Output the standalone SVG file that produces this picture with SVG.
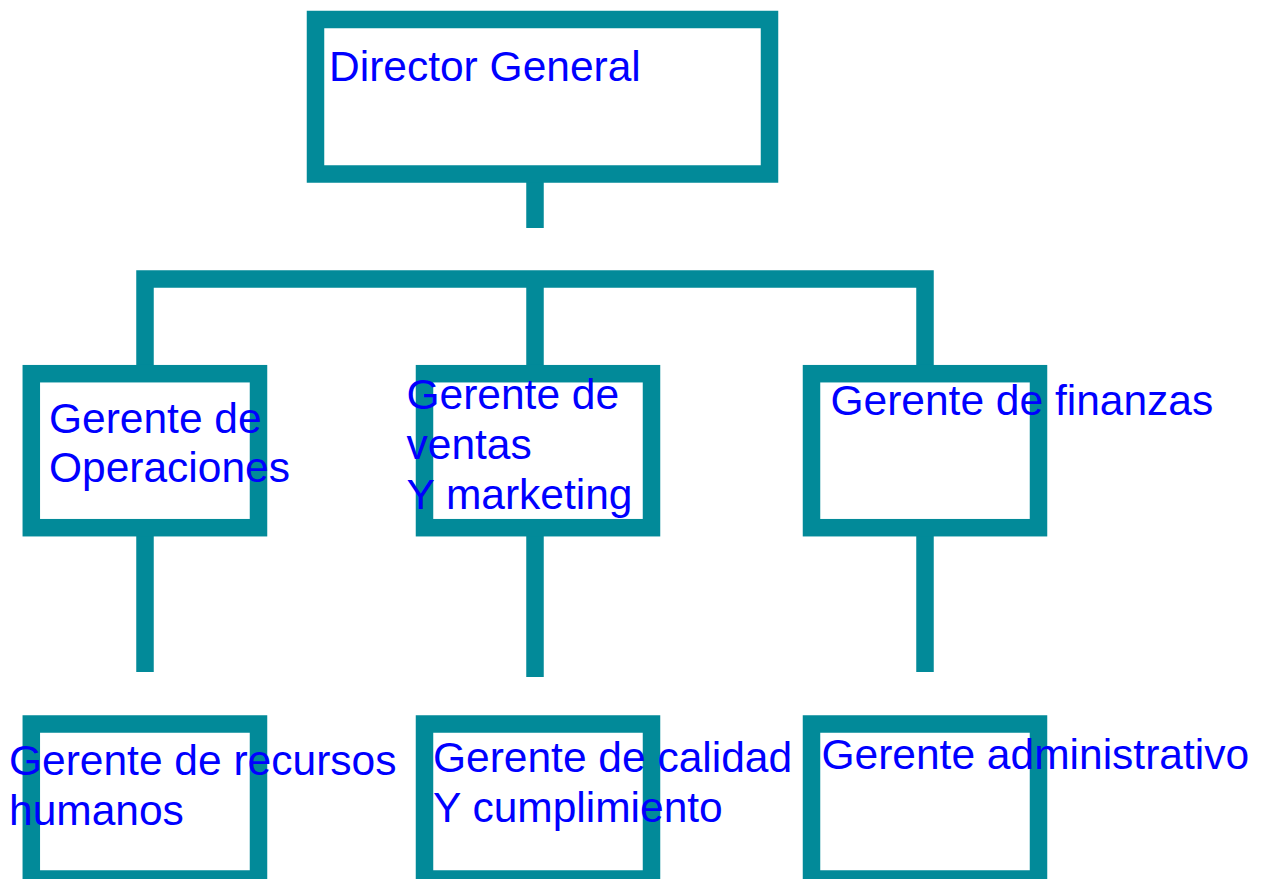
<svg xmlns="http://www.w3.org/2000/svg" width="1262" height="879" viewBox="0 0 1262 879">
<style>
.box{fill:#fff;stroke:#028A99;stroke-width:17.5}
.ln{stroke:#028A99;stroke-width:17.5;fill:none;stroke-linecap:butt;stroke-linejoin:miter}
.t{font-family:"Liberation Sans",Arial,sans-serif;font-size:42.5px;fill:#0000FF}
</style>
<rect width="1262" height="879" fill="#fff"/>
<g id="connectors">
<line class="ln" x1="535" y1="174" x2="535" y2="228"/>
<polyline class="ln" points="145,374 145,279 925,279 925,374"/>
<line class="ln" x1="535" y1="279" x2="535" y2="374"/>
<line class="ln" x1="145" y1="528" x2="145" y2="672"/>
<line class="ln" x1="535" y1="528" x2="535" y2="677"/>
<line class="ln" x1="925" y1="528" x2="925" y2="672"/>
</g>
<g id="director">
<rect class="box" x="315.5" y="19.5" width="454" height="154.5"/>
<text class="t" x="329" y="81">Director General</text>
</g>
<g id="operaciones">
<rect class="box" x="31.3" y="373.7" width="227.2" height="154"/>
<text class="t" x="49" y="433"><tspan x="49">Gerente de</tspan><tspan x="49" dy="49">Operaciones</tspan></text>
</g>
<g id="ventas">
<rect class="box" x="424.5" y="373.7" width="227" height="154"/>
<text class="t" x="406.5" y="408.5"><tspan x="406.5">Gerente de</tspan><tspan x="406.5" dy="50">ventas</tspan><tspan x="406.5" dy="50">Y marketing</tspan></text>
</g>
<g id="finanzas">
<rect class="box" x="811.5" y="373.7" width="227" height="154"/>
<text class="t" x="830.5" y="415">Gerente de finanzas</text>
</g>
<g id="rrhh">
<rect class="box" x="31.3" y="724" width="227.2" height="155"/>
<text class="t" x="9" y="775"><tspan x="9">Gerente de recursos</tspan><tspan x="9" dy="50">humanos</tspan></text>
</g>
<g id="calidad">
<rect class="box" x="424.5" y="724" width="227" height="155"/>
<text class="t" x="433" y="772"><tspan x="433">Gerente de calidad</tspan><tspan x="433" dy="50">Y cumplimiento</tspan></text>
</g>
<g id="administrativo">
<rect class="box" x="811.5" y="724" width="227" height="155"/>
<text class="t" x="821.5" y="768.5">Gerente administrativo</text>
</g>
</svg>
